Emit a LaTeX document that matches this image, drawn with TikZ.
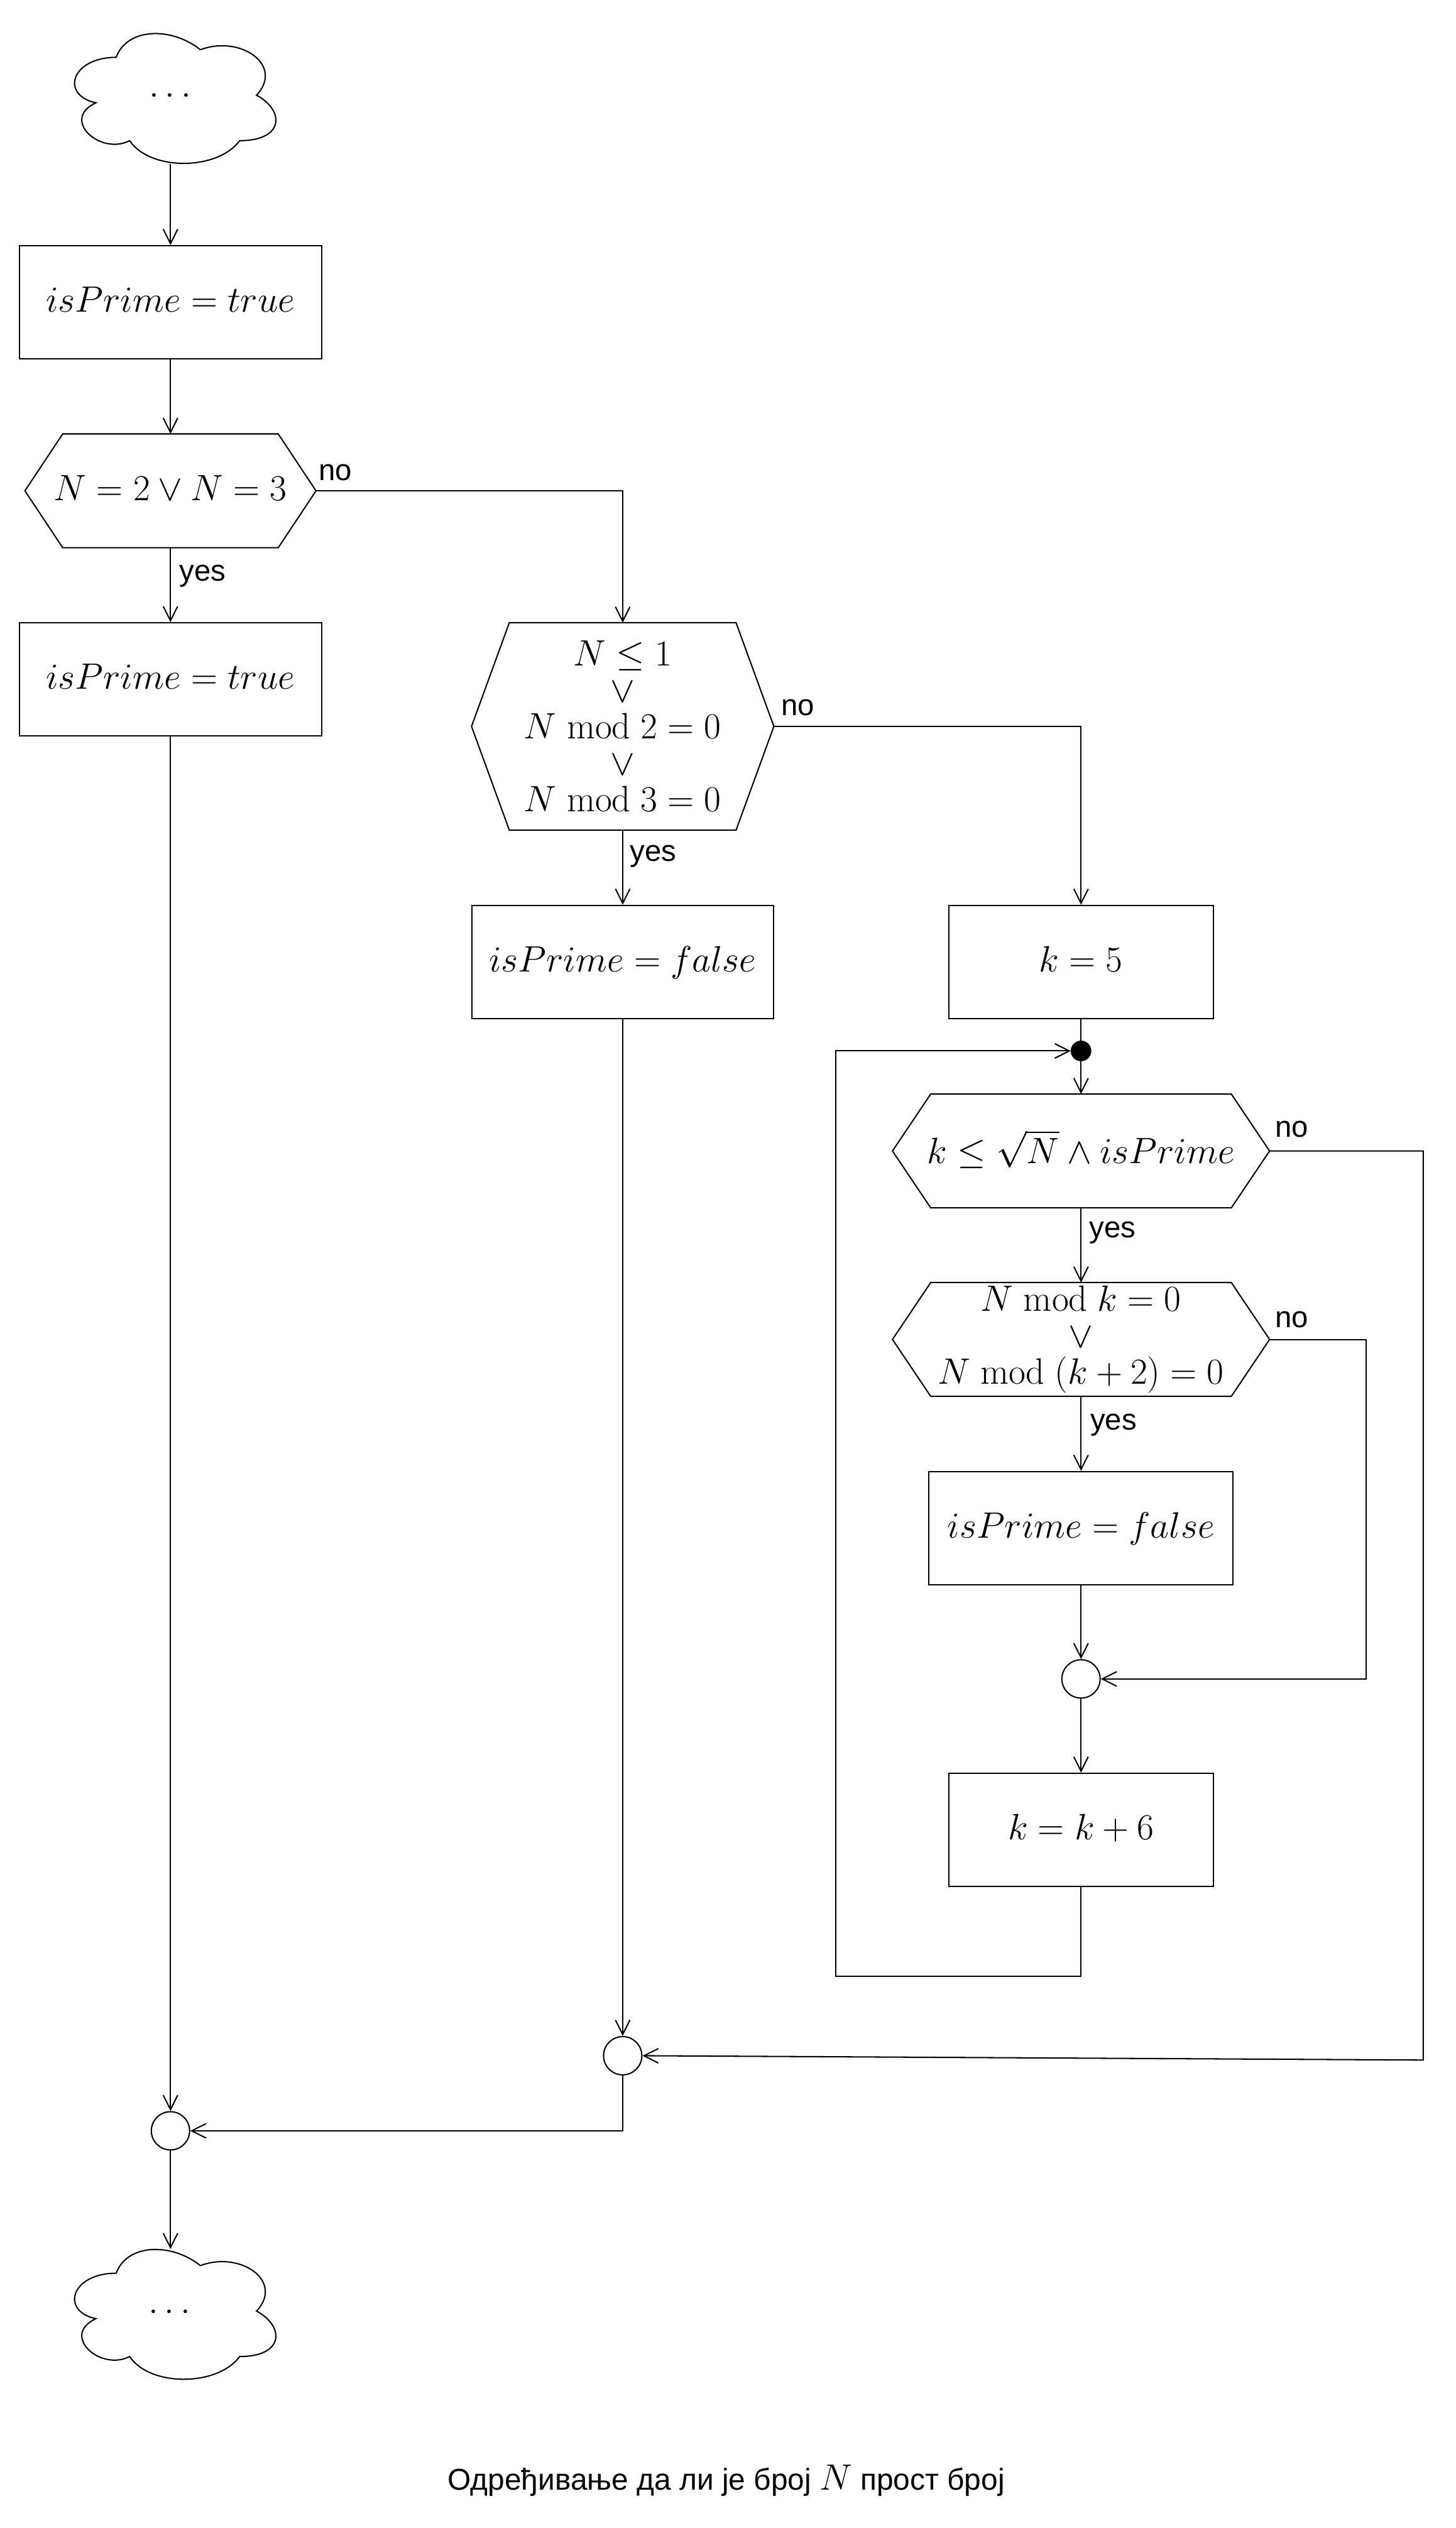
\documentclass[tikz,border=0pt]{standalone}
\usepackage{fix-cm}
\usepackage{fontspec}
\newfontfamily\labelfont{Liberation Sans}
\usetikzlibrary{arrows.meta,calc}
\newcommand\mathsz{\fontsize{22.8}{22.7}\selectfont}
\newcommand\lblsz{\labelfont\fontsize{18.5}{20}\selectfont}
\newcommand\hexdraw[2]{%
  \draw[lw] (#1.west) -- ([xshift=#2]#1.north west) -- ([xshift=-#2]#1.north east)
   -- (#1.east) -- ([xshift=-#2]#1.south east) -- ([xshift=#2]#1.south west) -- cycle;}
\newcommand\cloudpath[2]{%
  \draw[lw, shift={(#1,#2)}, xscale=139.7, yscale=94.2]
    (0.25,0.25) .. controls (0.05,0.25) and (0,0.5) .. (0.16,0.55)
    .. controls (0,0.66) and (0.18,0.9) .. (0.31,0.8)
    .. controls (0.4,1) and (0.7,1) .. (0.8,0.8)
    .. controls (1,0.8) and (1,0.6) .. (0.875,0.5)
    .. controls (1,0.3) and (0.8,0.1) .. (0.625,0.2)
    .. controls (0.5,0.05) and (0.3,0.05) .. (0.25,0.25) -- cycle;}
\tikzset{
  lw/.style={line width=0.8pt},
  box/.style={draw, lw, rectangle, inner sep=0pt, font=\mathsz, text height=15.6pt, text depth=3.6pt},
  hexn/.style={rectangle, inner sep=0pt, font=\mathsz},
  oneline/.style={text height=15.6pt, text depth=3.6pt},
  junction/.style={circle, draw, lw, minimum size=23.8pt, inner sep=0pt},
  blob/.style={circle, fill=black, draw=black, minimum size=12.4pt, inner sep=0pt},
  lbl/.style={font=\lblsz, anchor=base west, inner sep=0pt},
  conn/.style={lw, -{Straight Barb[length=9pt,width=9pt]}},
  plainline/.style={lw},
  cloudn/.style={rectangle, inner sep=0pt, minimum width=128pt, minimum height=80.7pt},
}
\begin{document}
\begin{tikzpicture}[x=1pt, y=-1pt]
\useasboundingbox (0,0) rectangle (905,1572);
\fill[white] (0,0) rectangle (905,1572);

% clouds
\cloudpath{37.3}{12.1}
\node[cloudn] (cloud1) at (106,61.25) {};
\node[font=\mathsz, inner sep=0pt] (dots1) at (105.8,59.3) {$\ldots$};
\cloudpath{37.3}{1390}
\node[cloudn] (cloud2) at (106,1439.1) {};
\node[font=\mathsz, inner sep=0pt] (dots2) at (105.5,1437.3) {$\ldots$};

% left column
\node[box, minimum width=188pt, minimum height=70.4pt] (box1) at (106,188) {$isPrime = true$};
\node[hexn, oneline, minimum width=180.6pt, minimum height=70.4pt] (hex1) at (106,305.2) {$N = 2 \vee N = 3$};
\hexdraw{hex1}{23.5pt}
\node[box, minimum width=188pt, minimum height=70.4pt] (box2) at (106,422.5) {$isPrime = true$};
\node[junction] (c3) at (106,1325) {};

% middle column
\node[hexn, align=center, minimum width=187.6pt, minimum height=128.6pt] (hex2) at (387.2,451.7)
  {$N \leq 1$\\$\vee$\\$N \bmod 2 = 0$\\$\vee$\\$N \bmod 3 = 0$};
\hexdraw{hex2}{23.5pt}
\node[box, minimum width=187.6pt, minimum height=70.4pt] (box3) at (387.2,598.2) {$isPrime = false$};
\node[junction] (c2) at (387.2,1278.3) {};

% right column
\node[box, minimum width=164.4pt, minimum height=70.4pt] (k5) at (672.2,598.2) {$k = 5$};
\node[blob] (dot) at (672.2,653.5) {};
\node[hexn, text height=19.2pt, text depth=3.6pt, minimum width=234.1pt, minimum height=70.4pt] (hex3) at (672.2,715.7)
  {$k \leq \sqrt{N} \wedge isPrime$};
\hexdraw{hex3}{23.8pt}
\node[hexn, align=center, minimum width=234.1pt, minimum height=70.4pt] (hex4) at (672.2,832.9)
  {$N \bmod k = 0$\\$\vee$\\$N \bmod (k + 2) = 0$};
\hexdraw{hex4}{23.8pt}
\node[box, minimum width=189.2pt, minimum height=70.3pt] (box5) at (672.2,950.2) {$isPrime = false$};
\node[junction] (c1) at (672.2,1044) {};
\node[box, minimum width=164.4pt, minimum height=70.4pt] (k6) at (672.2,1137.9) {$k = k + 6$};

% helper coordinates
\coordinate (loopA) at (672.2,1229);
\coordinate (loopB) at (519.7,1229);
\coordinate (loopC) at (519.7,653.5);
\coordinate (noA) at (885,715.7);
\coordinate (noB) at (885,1281);
\coordinate (no4A) at (849.6,832.9);
\coordinate (no4B) at (849.6,1044);

% connectors
\draw[conn] (cloud1.south) -- (box1.north);
\draw[conn] (box1.south) -- (hex1.north);
\draw[conn] (hex1.south) -- (box2.north);
\draw[conn] (hex1.east) -| (hex2.north);
\draw[conn] (hex2.south) -- (box3.north);
\draw[conn] (hex2.east) -| (k5.north);
\draw[conn] (box2.south) -- (c3.north);
\draw[conn] (box3.south) -- (c2.north);
\draw[plainline] (k5.south) -- (dot.north);
\draw[conn] (dot.south) -- (hex3.north);
\draw[conn] (hex3.south) -- (hex4.north);
\draw[conn] (hex4.south) -- (box5.north);
\draw[conn] (box5.south) -- (c1.north);
\draw[conn] (hex4.east) -- (no4A) -- (no4B) -- (c1.east);
\draw[conn] (c1.south) -- (k6.north);
\draw[conn] (k6.south) -- (loopA) -- (loopB) -- (loopC) -- (dot.west);
\draw[conn] (hex3.east) -- (noA) -- (noB) -- (c2.east);
\draw[conn] (c2.south) |- (c3.east);
\draw[conn] (c3.south) -- (cloud2.north);

% labels
\node[lbl] (l1no) at (198,298.6) {no};
\node[lbl] (l1yes) at (111.4,361.4) {yes};
\node[lbl] (l2no) at (485.6,444.8) {no};
\node[lbl] (l2yes) at (391.7,535.7) {yes};
\node[lbl] (l3no) at (792.7,707.2) {no};
\node[lbl] (l3yes) at (677.1,769.6) {yes};
\node[lbl] (l4no) at (792.7,825.6) {no};
\node[lbl] (l4yes) at (677.8,889) {yes};

% caption
\node[font=\lblsz, anchor=base, inner sep=0pt] (caption) at (451.6,1548.5)
  {{\fontsize{18.7}{20}\selectfont Одређивање да ли је број} {\mathsz$N$} {\fontsize{18.7}{20}\selectfont прост број}};
\end{tikzpicture}
\end{document}
